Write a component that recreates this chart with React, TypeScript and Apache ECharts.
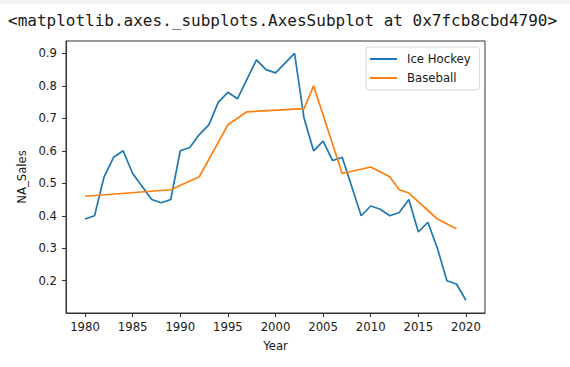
import React, { useEffect, useRef } from "react";
import * as echarts from "echarts";

const hockeyYears = [1980, 1981, 1982, 1983, 1984, 1985, 1986, 1987, 1988, 1989, 1990, 1991, 1992, 1993, 1994, 1995, 1996, 1997, 1998, 1999, 2000, 2001, 2002, 2003, 2004, 2005, 2006, 2007, 2009, 2010, 2011, 2012, 2013, 2014, 2015, 2016, 2017, 2018, 2019, 2020];
const hockeySales = [0.39, 0.40, 0.52, 0.58, 0.60, 0.53, 0.49, 0.45, 0.44, 0.45, 0.60, 0.61, 0.65, 0.68, 0.75, 0.78, 0.76, 0.82, 0.88, 0.85, 0.84, 0.87, 0.90, 0.70, 0.60, 0.63, 0.57, 0.58, 0.40, 0.43, 0.42, 0.40, 0.41, 0.45, 0.35, 0.38, 0.30, 0.20, 0.19, 0.14];

const baseballYears = [1980, 1989, 1992, 1995, 1997, 2003, 2004, 2007, 2010, 2012, 2013, 2014, 2017, 2019];
const baseballSales = [0.46, 0.48, 0.52, 0.68, 0.72, 0.73, 0.80, 0.53, 0.55, 0.52, 0.48, 0.47, 0.39, 0.36];

const xTicks = [1980, 1985, 1990, 1995, 2000, 2005, 2010, 2015, 2020];
const yTicks = [0.2, 0.3, 0.4, 0.5, 0.6, 0.7, 0.8, 0.9];

const headerText = "<matplotlib.axes._subplots.AxesSubplot at 0x7fcb8cbd4790>";

export default function App() {
  const ref = useRef<HTMLDivElement>(null);
  useEffect(() => {
    if (!ref.current) return;
    const chart = echarts.init(ref.current, null, { renderer: "svg" });
    const font = "DejaVu Sans";
    const fs = 11.7;
    chart.setOption({
      animation: false,
      backgroundColor: "#ffffff",
      textStyle: { fontFamily: font },
      graphic: [
        { type: "rect", left: 0, top: 0, shape: { width: 570, height: 4 }, style: { fill: "#f5f5f5" } },
        {
          type: "text",
          left: 8,
          top: 12,
          style: { text: headerText, fontFamily: "DejaVu Sans Mono", fontSize: 16, fill: "#1a1a1a" },
        },
      ],
      grid: { left: 66, right: 85, top: 41, bottom: 54, containLabel: false, show: true, borderColor: "#333", borderWidth: 1, backgroundColor: "transparent" },
      legend: {
        orient: "vertical",
        left: 366,
        top: 47,
        padding: [5, 9, 5, 4],
        itemWidth: 27,
        itemHeight: 2,
        itemGap: 5,
        icon: "rect",
        borderColor: "#d6d6d6",
        borderWidth: 1,
        borderRadius: 3,
        backgroundColor: "rgba(255,255,255,0.8)",
        textStyle: { fontFamily: font, fontSize: fs, color: "#1a1a1a", padding: [0, 0, 0, 5], lineHeight: 14 },
        data: [
          { name: "Ice Hockey", icon: "rect", itemStyle: { color: "#1f77b4" } },
          { name: "Baseball", icon: "rect", itemStyle: { color: "#ff7f0e" } },
        ],
      },
      xAxis: {
        type: "value",
        min: 1978,
        max: 2022,
        name: "Year",
        nameLocation: "middle",
        nameGap: 27,
        nameTextStyle: { fontFamily: font, fontSize: fs, color: "#1a1a1a" },
        axisLine: { show: true, lineStyle: { color: "#333", width: 1 } },
        axisTick: { show: true, length: 4, customValues: xTicks, lineStyle: { color: "#333" } },
        axisLabel: { customValues: xTicks, margin: 8, fontFamily: font, fontSize: fs, color: "#1a1a1a", formatter: (v: number) => String(v) },
        splitLine: { show: false },
      },
      yAxis: {
        type: "value",
        min: 0.1006,
        max: 0.938,
        name: "NA_Sales",
        nameLocation: "middle",
        nameGap: 37,
        nameTextStyle: { fontFamily: font, fontSize: fs, color: "#1a1a1a" },
        axisLine: { show: true, lineStyle: { color: "#333", width: 1 } },
        axisTick: { show: true, length: 4, customValues: yTicks, lineStyle: { color: "#333" } },
        axisLabel: { customValues: yTicks, margin: 9, fontFamily: font, fontSize: fs, color: "#1a1a1a", formatter: (v: number) => v.toFixed(1) },
        splitLine: { show: false },
      },
      series: [
        {
          name: "Ice Hockey",
          type: "line",
          symbol: "none",
          showSymbol: false,
          data: hockeyYears.map((y, i) => [y, hockeySales[i]]),
          lineStyle: { color: "#1f77b4", width: 1.7 },
          itemStyle: { color: "#1f77b4" },
        },
        {
          name: "Baseball",
          type: "line",
          symbol: "none",
          showSymbol: false,
          data: baseballYears.map((y, i) => [y, baseballSales[i]]),
          lineStyle: { color: "#ff7f0e", width: 1.7 },
          itemStyle: { color: "#ff7f0e" },
        },
      ],
    });
    return () => chart.dispose();
  }, []);
  return <div ref={ref} style={{ position: "absolute", left: 0, top: 0, width: 570, height: 367 }} />;
}
